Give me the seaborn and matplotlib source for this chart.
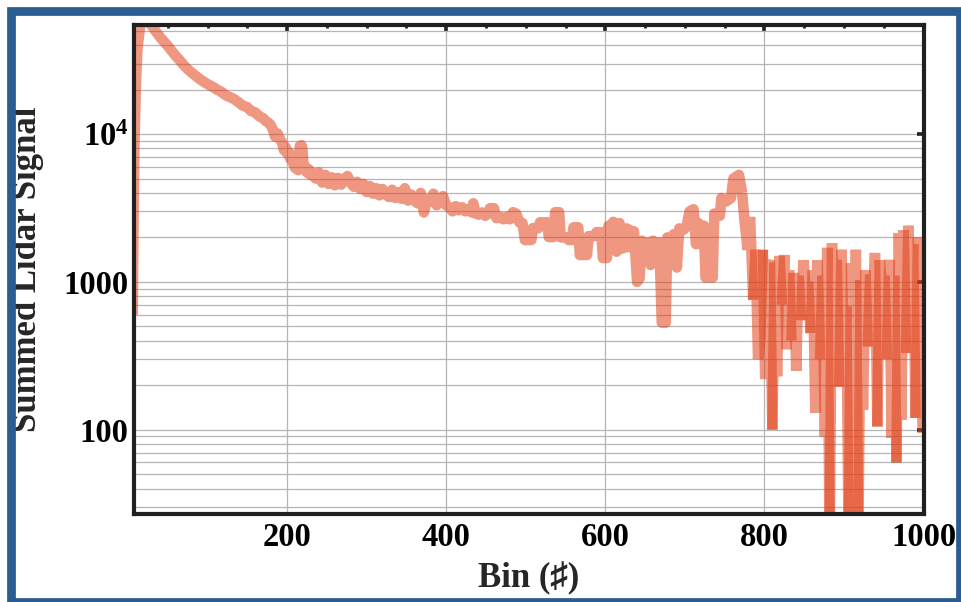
import matplotlib
matplotlib.use("Agg")
import matplotlib.pyplot as plt
import seaborn as sns
import pandas as pd
from matplotlib.patches import Rectangle
from matplotlib.ticker import LogLocator, NullFormatter, MultipleLocator

# ---------------- data ----------------
bins_near = [6, 7, 8, 10, 12, 15, 18, 21, 25, 30, 35, 40, 44, 50, 55, 60, 65, 70, 75, 81,
             87, 92, 97, 102, 107, 112, 118, 123, 128, 133, 139, 144, 150, 155, 160, 165,
             170, 173, 176, 179, 182, 185, 188, 191, 194, 196, 198, 200, 202, 204, 206,
             208, 210, 212, 214, 216, 218, 219, 221, 223, 225, 227, 229, 231, 233]
signal_near = [600, 2500, 8000, 22000, 38000, 52000, 60000, 62000, 59000, 54000, 49500,
               45500, 43000, 39500, 36500, 33800, 31600, 29300, 27500, 25800,
               24300, 23200, 22300, 21500, 20800, 20000, 19200, 18300, 17800, 17300,
               16400, 15600, 15200, 14300, 14000, 13200,
               12800, 12300, 12000, 11600, 10800, 9600, 10100, 9300, 8700, 7800, 8200,
               7400, 7600, 6800, 7100,
               6300, 5900, 6200, 5700, 8300, 8400, 8200, 5800, 6000, 5500, 5800, 5300,
               5500, 5200]

bins_mid1 = list(range(236, 392, 4))
signal_mid1 = [5000, 5500, 4700, 5300, 4600, 5100, 4500, 5050, 4550, 5000,
               5200, 4650, 4400, 4750, 4250, 4600, 4050, 4450, 3950, 4300,
               3850, 4250, 3900, 3750, 4200, 3700, 4050, 3650, 4300, 3550,
               3900, 3550, 3400, 4000, 2950, 3600, 3500, 3950, 3300]

bins_mid2 = [392, 396, 400, 404, 408, 412, 416, 420, 424, 428,
             432, 434, 437, 441, 445, 449, 453, 455, 460, 463,
             468, 472, 476, 480, 484, 488, 492, 496, 499, 507,
             509, 516, 518, 527, 529, 535, 537, 542, 544, 552,
             554, 558, 560, 566, 568, 577, 579, 587, 589, 595,
             597, 602, 604, 607, 610, 614, 618, 620, 624, 627,
             630, 633, 636, 640, 643, 646, 650, 654, 657, 660,
             664, 668, 671, 676, 678, 682, 686, 690, 693, 698,
             702, 706, 711, 714, 717, 720, 724, 726, 735, 737,
             744, 746, 752, 758, 761, 768, 772]
signal_mid2 = [3500, 3800, 3300, 3200, 3000, 3250, 3050, 3200, 3000, 3100,
               2950, 3400, 2900, 2850, 2950, 2800, 2900, 3150, 3150, 2700,
               2750, 2650, 2750, 2650, 2960, 2900, 2530, 2500, 1920, 1920,
               2310, 2310, 2530, 2530, 2010, 2010, 2960, 2960, 2000, 2000,
               1920, 1920, 2340, 2340, 1520, 1520, 2040, 2040, 2170, 2170,
               1450, 1450, 2400, 1800, 2550, 1600, 2500, 1680, 1700, 2300,
               2250, 1700, 2200, 1000, 1050, 1900, 1400, 1850, 1300, 1900,
               1350, 1850, 530, 530, 2000, 1300, 2100, 1250, 2300, 2250,
               2350, 3000, 3100, 1800, 2500, 1800, 2400, 1070, 1070, 2900,
               2800, 3700, 3500, 3700, 5000, 5300, 4000]

bins_far = [772, 775, 779, 782, 786, 789, 792, 795, 798, 801, 804, 807, 810, 813, 816, 819,
            822, 825, 828, 831, 834, 837, 840, 843, 846, 849, 852, 855, 858, 861, 864, 867,
            870, 873, 876, 879, 882, 885, 888, 891, 894, 897, 900, 903, 906, 909, 912, 915,
            918, 921, 924, 927, 930, 933, 936, 939, 942, 945, 948, 951, 954, 957, 960, 963,
            966, 969, 972, 975, 978, 981, 984, 987, 990, 993, 996, 999]
signal_far = [4000, 2600, 1650, 2750, 755, 1650, 300, 425, 1650, 220, 1260, 1400, 100, 1350,
              230, 1500,
              700, 1520, 350, 1200, 400, 1150, 250, 1100, 550, 1400, 900, 1000, 450, 1200,
              130, 1400,
              300, 1100, 90, 1700, 15, 1830, 310, 1410, 195, 1650, 245, 680, 15, 1340, 15,
              1650,
              15, 1030, 137, 1200, 365, 1120, 550, 1570, 105, 1400, 900, 1100, 300, 1410,
              88, 1100,
              60, 2140, 117, 2240, 330, 2400, 700, 1800, 120, 2000, 500, 95]

y_ticks = [100, 1000, 10000]
y_tick_labels = ["100", "1000", r"$\mathbf{10^4}$"]
x_ticks = [200, 400, 600, 800, 1000]
x_tick_labels = ["200", "400", "600", "800", "1000"]

assert len(bins_near) == len(signal_near)
assert len(bins_mid1) == len(signal_mid1)
assert len(bins_mid2) == len(signal_mid2)
assert len(bins_far) == len(signal_far)

# ---------------- style ----------------
sns.set_style("white")
plt.rcParams["font.family"] = ["Liberation Serif", "DejaVu Serif"]
plt.rcParams["font.weight"] = "bold"
plt.rcParams["mathtext.fontset"] = "custom"
plt.rcParams["mathtext.rm"] = "Liberation Serif:bold"
plt.rcParams["mathtext.bf"] = "Liberation Serif:bold"
plt.rcParams["mathtext.it"] = "Liberation Serif:bold"

LINE = "#E2421A"
ALPHA = 0.55
LW = 7.6
DARK = "#231F20"

fig = plt.figure(figsize=(9.61, 6.02), dpi=100)
fig.patch.set_facecolor("white")
ax = fig.add_axes([134 / 961, 1 - 513.5 / 602, (923.5 - 134) / 961, (513.5 - 25) / 602])

# near + mid range as one path
df_smooth = pd.DataFrame({"bin": bins_near + bins_mid1 + bins_mid2,
                          "signal": signal_near + signal_mid1 + signal_mid2})
sns.lineplot(data=df_smooth, x="bin", y="signal", ax=ax, color=LINE, alpha=ALPHA,
             linewidth=LW, estimator=None, sort=False, solid_joinstyle="round",
             solid_capstyle="butt")

# noisy far range: short chunks, so some overlapping strokes darken
CHUNK = 4
rows = []
for start in range(0, len(bins_far) - 1, CHUNK):
    stop = min(start + CHUNK, len(bins_far) - 1)
    for j in range(start, stop + 1):
        rows.append({"bin": bins_far[j], "signal": signal_far[j], "seg": start})
df_far = pd.DataFrame(rows)
sns.lineplot(data=df_far, x="bin", y="signal", units="seg", estimator=None, ax=ax,
             color=LINE, alpha=ALPHA, linewidth=LW, sort=False,
             solid_capstyle="butt", solid_joinstyle="bevel")

ax.set_yscale("log")
ax.set_xlim(7.6, 1000)
ax.set_ylim(27.1, 54700)

ax.set_yticks(y_ticks, labels=y_tick_labels)
ax.yaxis.set_minor_locator(LogLocator(base=10, subs=range(2, 10)))
ax.yaxis.set_minor_formatter(NullFormatter())
ax.set_xticks(x_ticks, labels=x_tick_labels)
ax.xaxis.set_minor_locator(MultipleLocator(50))

for lab in ax.get_xticklabels() + ax.get_yticklabels():
    lab.set_fontsize(23.5)
    lab.set_fontweight("bold")

ax.grid(True, which="both", axis="y", color="#b5b5b5", linewidth=0.9)
ax.grid(True, which="major", axis="x", color="#b5b5b5", linewidth=0.9)
ax.set_axisbelow(True)

ax.tick_params(axis="both", which="both", direction="in", top=True, right=True,
               colors=DARK, labelcolor="black")
ax.tick_params(axis="x", which="major", length=4, width=2.6, pad=6)
ax.tick_params(axis="x", which="minor", length=2.5, width=2.0)
ax.tick_params(axis="y", which="major", length=5, width=2.6, pad=4)
ax.tick_params(axis="y", which="minor", length=0)

for sp in ax.spines.values():
    sp.set_color(DARK)
    sp.set_linewidth(3.0)
    sp.set_visible(True)

ax.set_xlabel("Bin (\u266F)", fontsize=25, fontweight="bold")
ax.set_ylabel("Summed Lidar Signal", fontsize=25, fontweight="bold")
ax.xaxis.set_label_coords(0.5, -0.1)
ax.yaxis.set_label_coords(-0.114, 0.5)

# blue frame around the figure
fig.patches.append(Rectangle((11 / 961, 1 - 601.5 / 602), (959.5 - 11) / 961,
                             (601.5 - 10.5) / 602, transform=fig.transFigure,
                             fill=False, edgecolor="#2A5D92", linewidth=6.3,
                             zorder=10))

fig.savefig("out.png", dpi=100)
